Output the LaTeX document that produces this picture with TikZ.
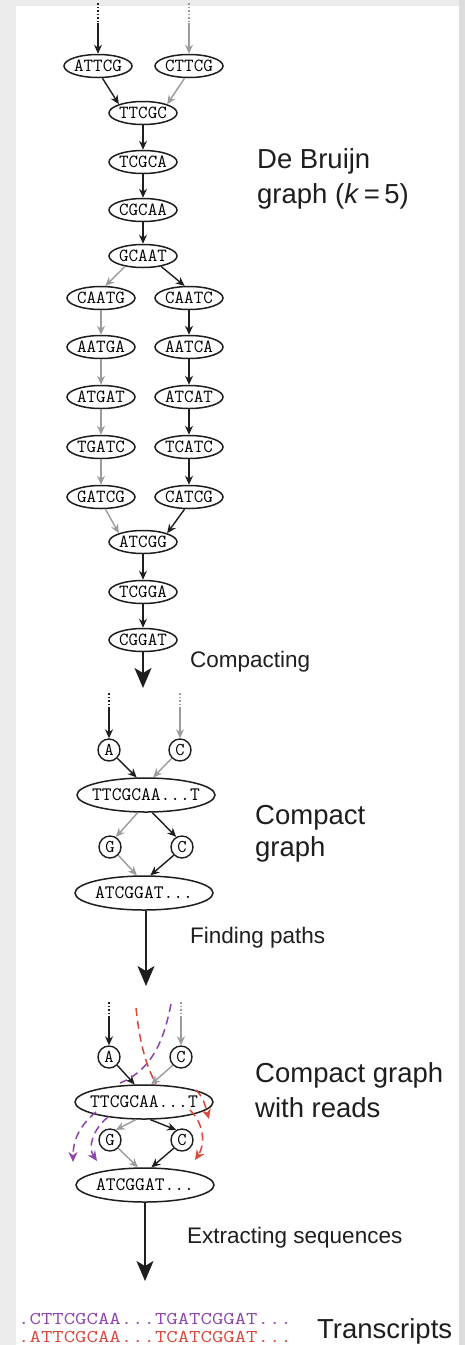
\documentclass[tikz,border=0pt]{standalone}
\usepackage{fontspec}
\usepackage{graphicx}
\setmainfont{Liberation Sans}
\usetikzlibrary{arrows.meta,shapes.geometric}
\definecolor{blk}{HTML}{1E1E1E}
\definecolor{gr}{HTML}{9C9C9C}
\definecolor{pur}{HTML}{8E44AD}
\definecolor{rd}{HTML}{D9473B}
\definecolor{bgg}{HTML}{EBEBEB}
\definecolor{bgr}{HTML}{DCDCDC}
\begin{document}
\begin{tikzpicture}[x=1pt,y=-1pt,
  kmer/.style={ellipse, draw=blk, line width=1.5pt, minimum width=68pt, minimum height=23pt, inner sep=0pt, font=\fontsize{18.5}{18.5}\ttfamily},
  cmp/.style={kmer, minimum width=138pt, minimum height=34pt, font=\fontsize{19}{19}\ttfamily},
  cnode/.style={circle, draw=blk, line width=1.4pt, minimum size=22pt, inner sep=0pt, font=\fontsize{18}{18}\ttfamily},
  bk/.style={draw=blk, line width=1.4pt, -{Stealth[length=9pt,width=8pt]}},
  gy/.style={draw=gr, line width=1.4pt, -{Stealth[length=9pt,width=8pt]}},
  bigarr/.style={draw=blk, line width=1.6pt, -{Stealth[length=20pt,width=17pt,inset=5pt]}},
  dotb/.style={draw=blk, line width=1.5pt, dash pattern=on 1.5pt off 2pt},
  dotg/.style={draw=gr, line width=1.5pt, dash pattern=on 1.5pt off 2pt},
  lab/.style={font=\fontsize{27.5}{32}\selectfont, anchor=base west, inner sep=0pt, text=blk},
  slab/.style={font=\fontsize{22.5}{26}\selectfont, anchor=base west, inner sep=0pt, text=blk},
  seq/.style={font=\fontsize{18}{18}\ttfamily, anchor=base west, inner sep=0pt},
  pread/.style={draw=pur, line width=1.5pt, dash pattern=on 8pt off 5pt},
  rread/.style={draw=rd, line width=1.5pt, dash pattern=on 8pt off 5pt},
  parr/.style={pread, -{Stealth[length=10pt,width=9pt]}},
  rarr/.style={rread, -{Stealth[length=10pt,width=9pt]}}
]
% background
\fill[bgg] (0,0) rectangle (465,1345);
\fill[bgr] (459,0) rectangle (465,1345);
\fill[white] (16,6) rectangle (459,1345);
\useasboundingbox (0,0) rectangle (465,1345);

% ---------------- De Bruijn graph ----------------
\node[kmer] (n1) at (98,66) {\makebox[0pt]{ATTCG}};
\node[kmer] (n2) at (189,66) {\makebox[0pt]{CTTCG}};
\node[kmer] (n3) at (143,113) {\makebox[0pt]{TTCGC}};
\node[kmer] (n4) at (143,162) {\makebox[0pt]{TCGCA}};
\node[kmer] (n5) at (143,210) {\makebox[0pt]{CGCAA}};
\node[kmer] (n6) at (143,256) {\makebox[0pt]{GCAAT}};
\node[kmer] (l1) at (101,298) {\makebox[0pt]{CAATG}};
\node[kmer] (r1) at (189,298) {\makebox[0pt]{CAATC}};
\node[kmer] (l2) at (101,347) {\makebox[0pt]{AATGA}};
\node[kmer] (r2) at (189,347) {\makebox[0pt]{AATCA}};
\node[kmer] (l3) at (101,397) {\makebox[0pt]{ATGAT}};
\node[kmer] (r3) at (189,397) {\makebox[0pt]{ATCAT}};
\node[kmer] (l4) at (101,447) {\makebox[0pt]{TGATC}};
\node[kmer] (r4) at (189,447) {\makebox[0pt]{TCATC}};
\node[kmer] (l5) at (101,497) {\makebox[0pt]{GATCG}};
\node[kmer] (r5) at (189,497) {\makebox[0pt]{CATCG}};
\node[kmer] (n7) at (143,542) {\makebox[0pt]{ATCGG}};
\node[kmer] (n8) at (143,592) {\makebox[0pt]{TCGGA}};
\node[kmer] (n9) at (143,640) {\makebox[0pt]{CGGAT}};

\coordinate (t1) at (98,3);  \coordinate (t1b) at (98,23);
\coordinate (t2) at (189,3); \coordinate (t2b) at (189,23);
\draw[dotb] (t1) -- (t1b);
\draw[dotg] (t2) -- (t2b);
\draw[bk] (t1b) -- (n1);
\draw[gy] (t2b) -- (n2);
\draw[bk] (n1.-70) -- (n3.160);
\draw[gy] (n2.-110) -- (n3.20);
\draw[bk] (n3) -- (n4);
\draw[bk] (n4) -- (n5);
\draw[bk] (n5) -- (n6);
\draw[gy] (n6.-150) -- (l1.70);
\draw[bk] (n6.-30) -- (r1.110);
\draw[gy] (l1) -- (l2);
\draw[gy] (l2) -- (l3);
\draw[gy] (l3) -- (l4);
\draw[gy] (l4) -- (l5);
\draw[bk] (r1) -- (r2);
\draw[bk] (r2) -- (r3);
\draw[bk] (r3) -- (r4);
\draw[bk] (r4) -- (r5);
\draw[gy] (l5.-70) -- (n7.160);
\draw[bk] (r5.-110) -- (n7.20);
\draw[bk] (n7) -- (n8);
\draw[bk] (n8) -- (n9);
\coordinate (a1) at (143,688);
\draw[bigarr] (n9) -- (a1);

\node[lab] (lb1) at (257,168) {De Bruijn};
\node[lab] (lb2) at (257,203) {graph (\textit{k}\,=\,5)};
\node[slab] (lb3) at (190,667) {Compacting};

% ---------------- Compact graph ----------------
\coordinate (u1) at (109,693); \coordinate (u1b) at (109,709);
\coordinate (u2) at (180,693); \coordinate (u2b) at (180,709);
\node[cnode] (ca) at (109,750) {A};
\node[cnode] (cc) at (180,750) {C};
\node[cmp] (cm1) at (146,795) {\makebox[0pt]{TTCGCAA...T}};
\node[cnode] (cg2) at (110,847) {G};
\node[cnode] (cc2) at (182,847) {C};
\node[cmp] (cm2) at (144,893) {\makebox[0pt]{ATCGGAT...}};
\draw[dotb] (u1) -- (u1b);
\draw[dotg] (u2) -- (u2b);
\draw[bk] (u1b) -- (ca);
\draw[gy] (u2b) -- (cc);
\draw[bk] (ca.-45) -- (cm1.118);
\draw[gy] (cc.-135) -- (cm1.68);
\draw[gy] (cm1.-115) -- (cg2.60);
\draw[bk] (cm1.-70) -- (cc2.120);
\draw[gy] (cg2.-45) -- (cm2.112);
\draw[bk] (cc2.-135) -- (cm2.70);
\coordinate (a2) at (146,986);
\draw[bigarr] (cm2.south -| a2) -- (a2);

\node[lab] (lb4) at (255,824) {Compact};
\node[lab] (lb5) at (255,856) {graph};
\node[slab] (lb6) at (190,943) {Finding paths};

% ---------------- Compact graph with reads ----------------
\coordinate (v1) at (109,1002); \coordinate (v1b) at (109,1017);
\coordinate (v2) at (181,1002); \coordinate (v2b) at (181,1017);
\node[cnode] (ra) at (109,1057) {A};
\node[cnode] (rc) at (181,1057) {C};
\node[cmp] (rm1) at (144,1102) {\makebox[0pt]{TTCGCAA...T}};
\node[cnode] (rg2) at (110,1140) {G};
\node[cnode] (rc2) at (182,1140) {C};
\node[cmp] (rm2) at (145,1185) {\makebox[0pt]{ATCGGAT...}};
\draw[dotb] (v1) -- (v1b);
\draw[dotg] (v2) -- (v2b);
\draw[bk] (v1b) -- (ra);
\draw[gy] (v2b) -- (rc);
\draw[bk] (ra.-45) -- (rm1.118);
\draw[gy] (rc.-135) -- (rm1.68);
\draw[gy] (rm1.-115) -- (rg2.60);
\draw[bk] (rm1.-70) -- (rc2.120);
\draw[gy] (rg2.-45) -- (rm2.112);
\draw[bk] (rc2.-135) -- (rm2.70);
% reads
\coordinate (pr1) at (171,1004); \coordinate (pr1e) at (120,1083);
\draw[pread] (pr1) .. controls (164,1040) and (152,1070) .. (pr1e);
\coordinate (rr1) at (136,1008); \coordinate (rr1e) at (156,1084);
\draw[rread] (rr1) .. controls (140,1045) and (146,1065) .. (rr1e);
\coordinate (pl1) at (96,1112); \coordinate (pl1e) at (73,1162);
\draw[parr] (pl1) .. controls (80,1125) and (73,1140) .. (pl1e);
\coordinate (pl2) at (108,1117); \coordinate (pl2e) at (97,1161);
\draw[parr] (pl2) .. controls (92,1130) and (88,1148) .. (pl2e);
\coordinate (rl1) at (190,1110); \coordinate (rl1e) at (195,1160);
\draw[rarr] (rl1) .. controls (205,1125) and (205,1145) .. (rl1e);
\coordinate (rl2) at (196,1090); \coordinate (rl2e) at (209,1119);
\draw[rarr] (rl2) .. controls (203,1098) .. (rl2e);
\coordinate (a3) at (145,1281);
\draw[bigarr] (rm2.south -| a3) -- (a3);

\node[lab] (lb7) at (255,1082) {Compact graph};
\node[lab] (lb8) at (255,1117) {with reads};
\node[slab] (lb9) at (187,1243) {Extracting sequences};

% ---------------- Transcripts ----------------
\node[seq, text=pur] (s1) at (18,1324) {\scalebox{1.23}[1]{.CTTCGCAA...TGATCGGAT...}};
\node[seq, text=rd] (s2) at (18,1342) {\scalebox{1.23}[1]{.ATTCGCAA...TCATCGGAT...}};
\node[lab] (lb10) at (317,1338) {Transcripts};
\end{tikzpicture}
\end{document}
